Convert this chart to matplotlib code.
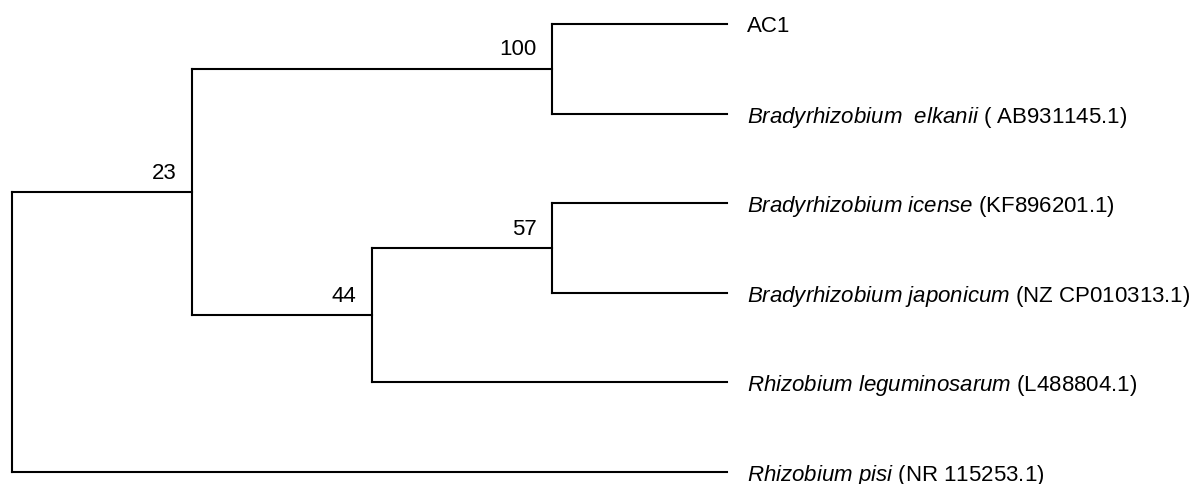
import matplotlib
matplotlib.use("Agg")
import matplotlib.pyplot as plt

plt.rcParams['font.family'] = ['Liberation Sans', 'DejaVu Sans']
plt.rcParams['mathtext.fontset'] = 'custom'
plt.rcParams['mathtext.rm'] = 'Liberation Sans'
plt.rcParams['mathtext.it'] = 'Liberation Sans:italic'

# ---- data ----
leaf_ids = ["L0", "L1", "L2", "L3", "L4", "L5"]
leaf_species = ["", "Bradyrhizobium  elkanii", "Bradyrhizobium icense",
                "Bradyrhizobium japonicum", "Rhizobium leguminosarum", "Rhizobium pisi"]
leaf_accession = ["AC1", "( AB931145.1)", "(KF896201.1)", "(NZ CP010313.1)",
                  "(L488804.1)", "(NR 115253.1)"]

edge_parent = ["root", "root", "n23", "n23", "n100", "n100", "n44", "n44", "n57", "n57"]
edge_child = ["n23", "L5", "n100", "n44", "L0", "L1", "n57", "L4", "L2", "L3"]
edge_length = [1.0, 3.97, 2.0, 1.0, 0.97, 0.97, 1.0, 1.97, 0.97, 0.97]

bootstrap_nodes = ["n23", "n100", "n44", "n57"]
bootstrap_values = [23, 100, 44, 57]

# ---- tree layout ----
children = {}
blen = {}
for p, c, l in zip(edge_parent, edge_child, edge_length):
    children.setdefault(p, []).append(c)
    blen[c] = l

xpos = {"root": 0.0}
ypos = {}

def place_x(node):
    for c in children.get(node, []):
        xpos[c] = xpos[node] + blen[c]
        place_x(c)

def place_y(node):
    if node in leaf_ids:
        ypos[node] = leaf_ids.index(node)
        return ypos[node]
    ys = [place_y(c) for c in children[node]]
    ypos[node] = sum(ys) / len(ys)
    return ypos[node]

place_x("root")
place_y("root")

fig = plt.figure(figsize=(11.98, 4.84), dpi=100)
ax = fig.add_axes([0, 0, 1, 1])
ax.set_xlim(-12 / 180, (1198 - 12) / 180)
ax.set_ylim(5 + 12 / 89.6, -24 / 89.6)
ax.axis('off')

lw = 1.5
for node, kids in children.items():
    ys = [ypos[c] for c in kids]
    ax.plot([xpos[node], xpos[node]], [min(ys), max(ys)], color='black', lw=lw,
            solid_capstyle='projecting')
    for c in kids:
        ax.plot([xpos[node], xpos[c]], [ypos[c], ypos[c]], color='black', lw=lw,
                solid_capstyle='projecting')

for lid, sp, acc in zip(leaf_ids, leaf_species, leaf_accession):
    if sp:
        sp_math = sp.replace(' ', r'\ ')
        label = r"$\mathit{" + sp_math + "}$ " + acc
    else:
        label = acc
    ax.annotate(label, xy=(xpos[lid], ypos[lid]), xytext=(15, 0),
                textcoords='offset points', ha='left', va='center_baseline',
                fontsize=16, color='black')

for nd, v in zip(bootstrap_nodes, bootstrap_values):
    ax.annotate(str(v), xy=(xpos[nd], ypos[nd]), xytext=(-11, 6),
                textcoords='offset points', ha='right', va='bottom',
                fontsize=16, color='black')

fig.savefig("out.png", dpi=100, facecolor='white')
